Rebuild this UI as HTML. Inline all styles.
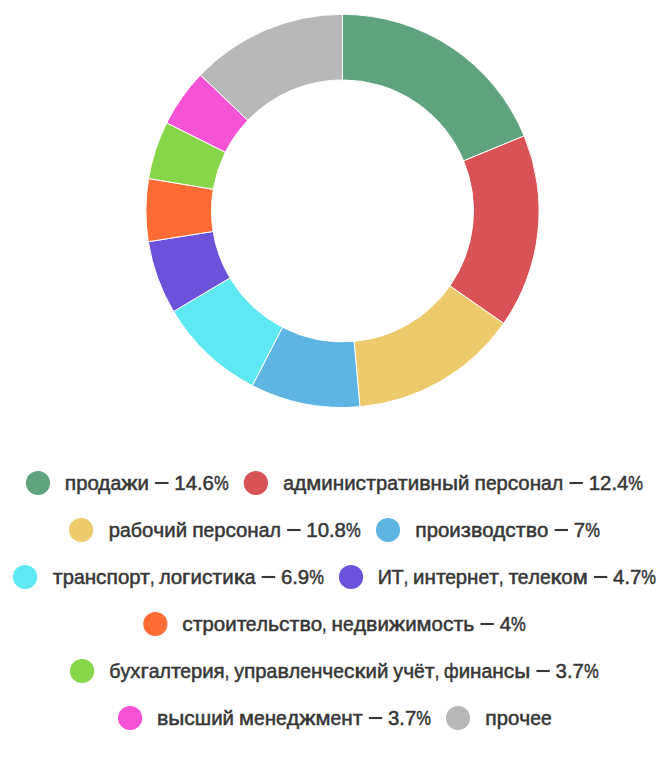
<!DOCTYPE html>
<html><head><meta charset="utf-8"><title>chart</title>
<style>
html,body{margin:0;padding:0;background:#fff;}
body{width:671px;height:759px;overflow:hidden;}
svg{display:block;}
text{font-family:"Liberation Sans",sans-serif;font-size:19.6px;fill:#373737;stroke:#373737;stroke-width:0.5px;}
.d path{stroke:#fff;stroke-width:1;stroke-linejoin:round;}
</style></head><body>
<svg width="671" height="759" viewBox="0 0 671 759">
<rect width="671" height="759" fill="#fff"/>
<g class="d">
<path d="M342.50 14.30A196.6 196.6 0 0 1 524.21 135.85L463.58 160.89A131.0 131.0 0 0 0 342.50 79.90Z" fill="#60A37F"/>
<path d="M524.21 135.85A196.6 196.6 0 0 1 503.67 323.48L449.89 285.92A131.0 131.0 0 0 0 463.58 160.89Z" fill="#D95356"/>
<path d="M503.67 323.48A196.6 196.6 0 0 1 359.94 406.72L354.12 341.38A131.0 131.0 0 0 0 449.89 285.92Z" fill="#EDCA6B"/>
<path d="M359.94 406.72A196.6 196.6 0 0 1 252.33 385.60L282.42 327.31A131.0 131.0 0 0 0 354.12 341.38Z" fill="#5EB5E4"/>
<path d="M252.33 385.60A196.6 196.6 0 0 1 173.58 311.48L229.94 277.92A131.0 131.0 0 0 0 282.42 327.31Z" fill="#5EE8F2"/>
<path d="M173.58 311.48A196.6 196.6 0 0 1 148.33 241.73L213.12 231.45A131.0 131.0 0 0 0 229.94 277.92Z" fill="#6C52DB"/>
<path d="M148.33 241.73A196.6 196.6 0 0 1 148.59 178.50L213.29 189.31A131.0 131.0 0 0 0 213.12 231.45Z" fill="#FF6B35"/>
<path d="M148.59 178.50A196.6 196.6 0 0 1 166.72 122.85L225.37 152.23A131.0 131.0 0 0 0 213.29 189.31Z" fill="#87D548"/>
<path d="M166.72 122.85A196.6 196.6 0 0 1 200.43 75.00L247.83 120.35A131.0 131.0 0 0 0 225.37 152.23Z" fill="#F552D5"/>
<path d="M200.43 75.00A196.6 196.6 0 0 1 342.50 14.30L342.50 79.90A131.0 131.0 0 0 0 247.83 120.35Z" fill="#B8B8B8"/>
</g>
<g>
<circle cx="38.0" cy="483" r="12.1" fill="#60A37F"/>
<text transform="translate(64.75 489.7) scale(1.076 1)">п</text>
<text transform="translate(76.17 489.7) scale(1.032 1)">р</text>
<text transform="translate(87.41 489.7) scale(1.042 1)">о</text>
<text transform="translate(98.05 489.7) scale(1.082 1)">д</text>
<text transform="translate(110.42 489.7) scale(0.989 1)">а</text>
<text transform="translate(121.20 489.7) scale(1.244 1)">ж</text>
<text transform="translate(137.52 489.7) scale(1.043 1)">и</text>
<rect x="155.1" y="481.95" width="13.4" height="2.1" fill="#373737"/>
<text transform="translate(174.30 489.7) scale(1.043 1)">1</text>
<text transform="translate(185.66 489.7) scale(1.045 1)">4</text>
<text transform="translate(197.03 489.7) scale(1.018 1)">.</text>
<text transform="translate(202.58 489.7) scale(1.043 1)">6</text>
<text transform="translate(213.95 489.7) scale(0.845 1)">%</text>
<circle cx="255.9" cy="483" r="12.1" fill="#D95356"/>
<text transform="translate(283.25 489.7) scale(0.989 1)">а</text>
<text transform="translate(294.03 489.7) scale(1.080 1)">д</text>
<text transform="translate(306.33 489.7) scale(1.114 1)">м</text>
<text transform="translate(321.34 489.7) scale(1.043 1)">и</text>
<text transform="translate(332.77 489.7) scale(1.055 1)">н</text>
<text transform="translate(344.19 489.7) scale(1.043 1)">и</text>
<text transform="translate(355.61 489.7) scale(1.065 1)">с</text>
<text transform="translate(366.05 489.7) scale(1.107 1)">т</text>
<text transform="translate(375.98 489.7) scale(1.030 1)">р</text>
<text transform="translate(387.23 489.7) scale(0.989 1)">а</text>
<text transform="translate(397.86 489.7) scale(1.107 1)">т</text>
<text transform="translate(407.80 489.7) scale(1.043 1)">и</text>
<text transform="translate(419.22 489.7) scale(1.091 1)">в</text>
<text transform="translate(430.58 489.7) scale(1.055 1)">н</text>
<text transform="translate(442.00 489.7) scale(1.141 1)">ы</text>
<text transform="translate(458.08 489.7) scale(1.043 1)">й</text>
<text transform="translate(474.47 489.7) scale(1.076 1)">п</text>
<text transform="translate(485.91 489.7) scale(0.982 1)">е</text>
<text transform="translate(496.61 489.7) scale(1.030 1)">р</text>
<text transform="translate(507.86 489.7) scale(1.065 1)">с</text>
<text transform="translate(518.30 489.7) scale(1.040 1)">о</text>
<text transform="translate(529.64 489.7) scale(1.056 1)">н</text>
<text transform="translate(541.06 489.7) scale(0.990 1)">а</text>
<text transform="translate(551.84 489.7) scale(1.000 1)">л</text>
<rect x="569.5" y="481.95" width="13.4" height="2.1" fill="#373737"/>
<text transform="translate(588.64 489.7) scale(1.043 1)">1</text>
<text transform="translate(600.00 489.7) scale(1.043 1)">2</text>
<text transform="translate(611.38 489.7) scale(1.018 1)">.</text>
<text transform="translate(616.92 489.7) scale(1.042 1)">4</text>
<text transform="translate(628.30 489.7) scale(0.845 1)">%</text>
<circle cx="81.1" cy="530" r="12.1" fill="#EDCA6B"/>
<text transform="translate(108.75 536.7) scale(1.032 1)">р</text>
<text transform="translate(119.98 536.7) scale(0.989 1)">а</text>
<text transform="translate(130.77 536.7) scale(1.002 1)">б</text>
<text transform="translate(142.02 536.7) scale(1.040 1)">о</text>
<text transform="translate(153.36 536.7) scale(1.075 1)">ч</text>
<text transform="translate(164.34 536.7) scale(1.043 1)">и</text>
<text transform="translate(175.78 536.7) scale(1.043 1)">й</text>
<text transform="translate(192.17 536.7) scale(1.076 1)">п</text>
<text transform="translate(203.59 536.7) scale(0.983 1)">е</text>
<text transform="translate(214.31 536.7) scale(1.030 1)">р</text>
<text transform="translate(225.55 536.7) scale(1.065 1)">с</text>
<text transform="translate(235.98 536.7) scale(1.042 1)">о</text>
<text transform="translate(247.34 536.7) scale(1.055 1)">н</text>
<text transform="translate(258.75 536.7) scale(0.989 1)">а</text>
<text transform="translate(269.53 536.7) scale(1.001 1)">л</text>
<rect x="287.2" y="528.95" width="13.4" height="2.1" fill="#373737"/>
<text transform="translate(306.33 536.7) scale(1.043 1)">1</text>
<text transform="translate(317.70 536.7) scale(1.042 1)">0</text>
<text transform="translate(329.06 536.7) scale(1.020 1)">.</text>
<text transform="translate(334.62 536.7) scale(1.042 1)">8</text>
<text transform="translate(345.98 536.7) scale(0.846 1)">%</text>
<circle cx="388.05" cy="530" r="12.1" fill="#5EB5E4"/>
<text transform="translate(415.35 536.7) scale(1.076 1)">п</text>
<text transform="translate(426.77 536.7) scale(1.032 1)">р</text>
<text transform="translate(438.01 536.7) scale(1.042 1)">о</text>
<text transform="translate(449.35 536.7) scale(1.045 1)">и</text>
<text transform="translate(460.79 536.7) scale(1.137 1)">з</text>
<text transform="translate(471.01 536.7) scale(1.091 1)">в</text>
<text transform="translate(482.37 536.7) scale(1.040 1)">о</text>
<text transform="translate(493.01 536.7) scale(1.080 1)">д</text>
<text transform="translate(505.37 536.7) scale(1.065 1)">с</text>
<text transform="translate(515.82 536.7) scale(1.107 1)">т</text>
<text transform="translate(525.76 536.7) scale(1.091 1)">в</text>
<text transform="translate(537.12 536.7) scale(1.040 1)">о</text>
<rect x="554.6" y="528.95" width="13.4" height="2.1" fill="#373737"/>
<text transform="translate(573.80 536.7) scale(1.043 1)">7</text>
<text transform="translate(585.18 536.7) scale(0.845 1)">%</text>
<circle cx="25.06" cy="577" r="12.1" fill="#5EE8F2"/>
<text transform="translate(52.75 583.7) scale(1.107 1)">т</text>
<text transform="translate(62.69 583.7) scale(1.030 1)">р</text>
<text transform="translate(73.92 583.7) scale(0.990 1)">а</text>
<text transform="translate(84.70 583.7) scale(1.056 1)">н</text>
<text transform="translate(96.12 583.7) scale(1.065 1)">с</text>
<text transform="translate(106.56 583.7) scale(1.076 1)">п</text>
<text transform="translate(117.98 583.7) scale(1.042 1)">о</text>
<text transform="translate(129.33 583.7) scale(1.032 1)">р</text>
<text transform="translate(139.92 583.7) scale(1.107 1)">т</text>
<text transform="translate(149.88 583.7) scale(0.823 1)">,</text>
<text transform="translate(159.31 583.7) scale(1.001 1)">л</text>
<text transform="translate(170.77 583.7) scale(1.042 1)">о</text>
<text transform="translate(182.11 583.7) scale(1.176 1)">г</text>
<text transform="translate(190.50 583.7) scale(1.043 1)">и</text>
<text transform="translate(201.92 583.7) scale(1.065 1)">с</text>
<text transform="translate(212.36 583.7) scale(1.107 1)">т</text>
<text transform="translate(222.30 583.7) scale(1.043 1)">и</text>
<text transform="translate(233.73 583.7) scale(1.270 1)">к</text>
<text transform="translate(244.78 583.7) scale(0.990 1)">а</text>
<rect x="261.7" y="575.95" width="13.4" height="2.1" fill="#373737"/>
<text transform="translate(280.92 583.7) scale(1.042 1)">6</text>
<text transform="translate(292.28 583.7) scale(1.023 1)">.</text>
<text transform="translate(297.84 583.7) scale(1.042 1)">9</text>
<text transform="translate(309.20 583.7) scale(0.845 1)">%</text>
<circle cx="351.05" cy="577" r="12.1" fill="#6C52DB"/>
<text transform="translate(377.70 583.7) scale(1.003 1)">И</text>
<text transform="translate(391.53 583.7) scale(1.019 1)">Т</text>
<text transform="translate(403.65 583.7) scale(0.820 1)">,</text>
<text transform="translate(413.09 583.7) scale(1.043 1)">и</text>
<text transform="translate(424.51 583.7) scale(1.055 1)">н</text>
<text transform="translate(435.93 583.7) scale(1.107 1)">т</text>
<text transform="translate(445.15 583.7) scale(0.982 1)">е</text>
<text transform="translate(455.85 583.7) scale(1.033 1)">р</text>
<text transform="translate(467.10 583.7) scale(1.055 1)">н</text>
<text transform="translate(478.51 583.7) scale(0.983 1)">е</text>
<text transform="translate(489.12 583.7) scale(1.107 1)">т</text>
<text transform="translate(499.06 583.7) scale(0.823 1)">,</text>
<text transform="translate(508.51 583.7) scale(1.107 1)">т</text>
<text transform="translate(517.73 583.7) scale(0.982 1)">е</text>
<text transform="translate(528.43 583.7) scale(1.000 1)">л</text>
<text transform="translate(539.88 583.7) scale(0.983 1)">е</text>
<text transform="translate(550.60 583.7) scale(1.270 1)">к</text>
<text transform="translate(561.32 583.7) scale(1.042 1)">о</text>
<text transform="translate(572.67 583.7) scale(1.117 1)">м</text>
<rect x="593.9" y="575.95" width="13.4" height="2.1" fill="#373737"/>
<text transform="translate(613.04 583.7) scale(1.043 1)">4</text>
<text transform="translate(624.40 583.7) scale(1.020 1)">.</text>
<text transform="translate(629.96 583.7) scale(1.043 1)">7</text>
<text transform="translate(641.32 583.7) scale(0.845 1)">%</text>
<circle cx="155.3" cy="624" r="12.1" fill="#FF6B35"/>
<text transform="translate(182.25 630.7) scale(1.067 1)">с</text>
<text transform="translate(192.69 630.7) scale(1.107 1)">т</text>
<text transform="translate(202.62 630.7) scale(1.030 1)">р</text>
<text transform="translate(213.86 630.7) scale(1.042 1)">о</text>
<text transform="translate(225.22 630.7) scale(1.045 1)">и</text>
<text transform="translate(236.64 630.7) scale(1.107 1)">т</text>
<text transform="translate(245.86 630.7) scale(0.983 1)">е</text>
<text transform="translate(256.56 630.7) scale(1.001 1)">л</text>
<text transform="translate(268.02 630.7) scale(1.082 1)">ь</text>
<text transform="translate(279.03 630.7) scale(1.065 1)">с</text>
<text transform="translate(289.48 630.7) scale(1.105 1)">т</text>
<text transform="translate(299.42 630.7) scale(1.091 1)">в</text>
<text transform="translate(310.78 630.7) scale(1.042 1)">о</text>
<text transform="translate(322.12 630.7) scale(0.823 1)">,</text>
<text transform="translate(331.56 630.7) scale(1.054 1)">н</text>
<text transform="translate(342.98 630.7) scale(0.985 1)">е</text>
<text transform="translate(353.70 630.7) scale(1.082 1)">д</text>
<text transform="translate(366.06 630.7) scale(1.091 1)">в</text>
<text transform="translate(377.42 630.7) scale(1.043 1)">и</text>
<text transform="translate(388.84 630.7) scale(1.244 1)">ж</text>
<text transform="translate(405.16 630.7) scale(1.043 1)">и</text>
<text transform="translate(416.59 630.7) scale(1.114 1)">м</text>
<text transform="translate(431.61 630.7) scale(1.042 1)">о</text>
<text transform="translate(442.95 630.7) scale(1.067 1)">с</text>
<text transform="translate(453.39 630.7) scale(1.107 1)">т</text>
<text transform="translate(463.33 630.7) scale(1.078 1)">ь</text>
<rect x="480.5" y="622.95" width="13.4" height="2.1" fill="#373737"/>
<text transform="translate(499.72 630.7) scale(1.042 1)">4</text>
<text transform="translate(511.08 630.7) scale(0.846 1)">%</text>
<circle cx="82.1" cy="671" r="12.1" fill="#87D548"/>
<text transform="translate(109.30 677.7) scale(1.001 1)">б</text>
<text transform="translate(120.55 677.7) scale(0.998 1)">у</text>
<text transform="translate(130.33 677.7) scale(1.027 1)">х</text>
<text transform="translate(140.39 677.7) scale(1.176 1)">г</text>
<text transform="translate(148.78 677.7) scale(0.990 1)">а</text>
<text transform="translate(159.57 677.7) scale(1.000 1)">л</text>
<text transform="translate(171.02 677.7) scale(1.107 1)">т</text>
<text transform="translate(180.22 677.7) scale(0.983 1)">е</text>
<text transform="translate(190.94 677.7) scale(1.032 1)">р</text>
<text transform="translate(202.18 677.7) scale(1.043 1)">и</text>
<text transform="translate(213.61 677.7) scale(1.045 1)">я</text>
<text transform="translate(224.71 677.7) scale(0.820 1)">,</text>
<text transform="translate(234.14 677.7) scale(1.000 1)">у</text>
<text transform="translate(243.94 677.7) scale(1.076 1)">п</text>
<text transform="translate(255.36 677.7) scale(1.030 1)">р</text>
<text transform="translate(266.61 677.7) scale(0.990 1)">а</text>
<text transform="translate(277.39 677.7) scale(1.092 1)">в</text>
<text transform="translate(288.74 677.7) scale(1.001 1)">л</text>
<text transform="translate(300.19 677.7) scale(0.983 1)">е</text>
<text transform="translate(310.91 677.7) scale(1.054 1)">н</text>
<text transform="translate(322.32 677.7) scale(1.075 1)">ч</text>
<text transform="translate(333.30 677.7) scale(0.982 1)">е</text>
<text transform="translate(344.02 677.7) scale(1.065 1)">с</text>
<text transform="translate(354.46 677.7) scale(1.270 1)">к</text>
<text transform="translate(365.52 677.7) scale(1.043 1)">и</text>
<text transform="translate(376.94 677.7) scale(1.043 1)">й</text>
<text transform="translate(393.33 677.7) scale(1.000 1)">у</text>
<text transform="translate(403.13 677.7) scale(1.077 1)">ч</text>
<text transform="translate(414.11 677.7) scale(0.982 1)">ё</text>
<text transform="translate(424.72 677.7) scale(1.107 1)">т</text>
<text transform="translate(434.66 677.7) scale(0.825 1)">,</text>
<text transform="translate(444.11 677.7) scale(0.903 1)">ф</text>
<text transform="translate(458.68 677.7) scale(1.043 1)">и</text>
<text transform="translate(470.10 677.7) scale(1.054 1)">н</text>
<text transform="translate(481.52 677.7) scale(0.989 1)">а</text>
<text transform="translate(492.30 677.7) scale(1.056 1)">н</text>
<text transform="translate(503.72 677.7) scale(1.067 1)">с</text>
<text transform="translate(514.16 677.7) scale(1.142 1)">ы</text>
<rect x="536.4" y="669.95" width="13.4" height="2.1" fill="#373737"/>
<text transform="translate(555.60 677.7) scale(1.042 1)">3</text>
<text transform="translate(566.96 677.7) scale(1.023 1)">.</text>
<text transform="translate(572.52 677.7) scale(1.042 1)">7</text>
<text transform="translate(583.88 677.7) scale(0.846 1)">%</text>
<circle cx="130.1" cy="718" r="12.1" fill="#F552D5"/>
<text transform="translate(156.90 724.7) scale(1.091 1)">в</text>
<text transform="translate(168.24 724.7) scale(1.144 1)">ы</text>
<text transform="translate(184.34 724.7) scale(1.067 1)">с</text>
<text transform="translate(194.78 724.7) scale(1.042 1)">ш</text>
<text transform="translate(211.15 724.7) scale(1.043 1)">и</text>
<text transform="translate(222.57 724.7) scale(1.043 1)">й</text>
<text transform="translate(238.98 724.7) scale(1.114 1)">м</text>
<text transform="translate(253.99 724.7) scale(0.982 1)">е</text>
<text transform="translate(264.71 724.7) scale(1.054 1)">н</text>
<text transform="translate(276.12 724.7) scale(0.983 1)">е</text>
<text transform="translate(286.84 724.7) scale(1.082 1)">д</text>
<text transform="translate(299.20 724.7) scale(1.244 1)">ж</text>
<text transform="translate(315.51 724.7) scale(1.115 1)">м</text>
<text transform="translate(330.54 724.7) scale(0.982 1)">е</text>
<text transform="translate(341.24 724.7) scale(1.056 1)">н</text>
<text transform="translate(352.67 724.7) scale(1.107 1)">т</text>
<rect x="368.8" y="716.95" width="13.4" height="2.1" fill="#373737"/>
<text transform="translate(387.96 724.7) scale(1.042 1)">3</text>
<text transform="translate(399.32 724.7) scale(1.023 1)">.</text>
<text transform="translate(404.88 724.7) scale(1.043 1)">7</text>
<text transform="translate(416.24 724.7) scale(0.846 1)">%</text>
<circle cx="458.0" cy="718" r="12.1" fill="#B8B8B8"/>
<text transform="translate(485.25 724.7) scale(1.076 1)">п</text>
<text transform="translate(496.67 724.7) scale(1.032 1)">р</text>
<text transform="translate(507.91 724.7) scale(1.042 1)">о</text>
<text transform="translate(519.25 724.7) scale(1.075 1)">ч</text>
<text transform="translate(530.25 724.7) scale(0.982 1)">е</text>
<text transform="translate(540.95 724.7) scale(0.983 1)">е</text>
</g>
</svg>
</body></html>
